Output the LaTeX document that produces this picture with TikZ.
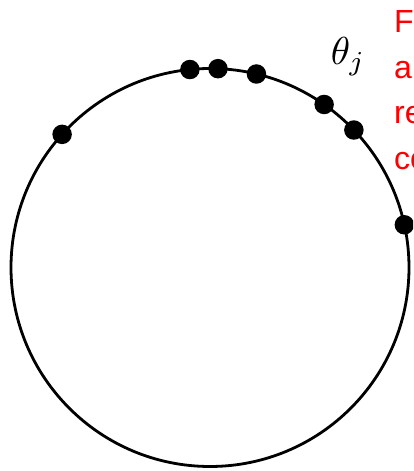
\documentclass[tikz,border=0pt]{standalone}
\usepackage{fontspec}
\newfontfamily\redfont{Liberation Sans}
\begin{document}
\begin{tikzpicture}[x=1pt,y=1pt,
  ring/.style={draw=black,line width=2.8pt},
  dot/.style={circle,fill=black,inner sep=0pt,minimum size=19.5pt},
  note/.style={text=red,font=\redfont\fontsize{32}{45.5}\selectfont,align=left,inner sep=0pt,anchor=base west}]
\useasboundingbox (0,0) rectangle (413,471);
\clip (0,0) rectangle (413,471);
\coordinate (c) at (210,203.5);
\draw[ring] (c) circle[radius=199];
\foreach \a [count=\i] in {138,95.8,87.7,76.5,55,43.7,12.4}
  \node[dot] (d\i) at ([shift={(c)}]\a:199) {};
\node[inner sep=0pt,scale=3.9,transform shape,anchor=base west] (theta) at (330,406) {$\theta_j$};
\node[note] (txt) at (394,301.5) {F\\a\\re\\co};
\end{tikzpicture}
\end{document}
